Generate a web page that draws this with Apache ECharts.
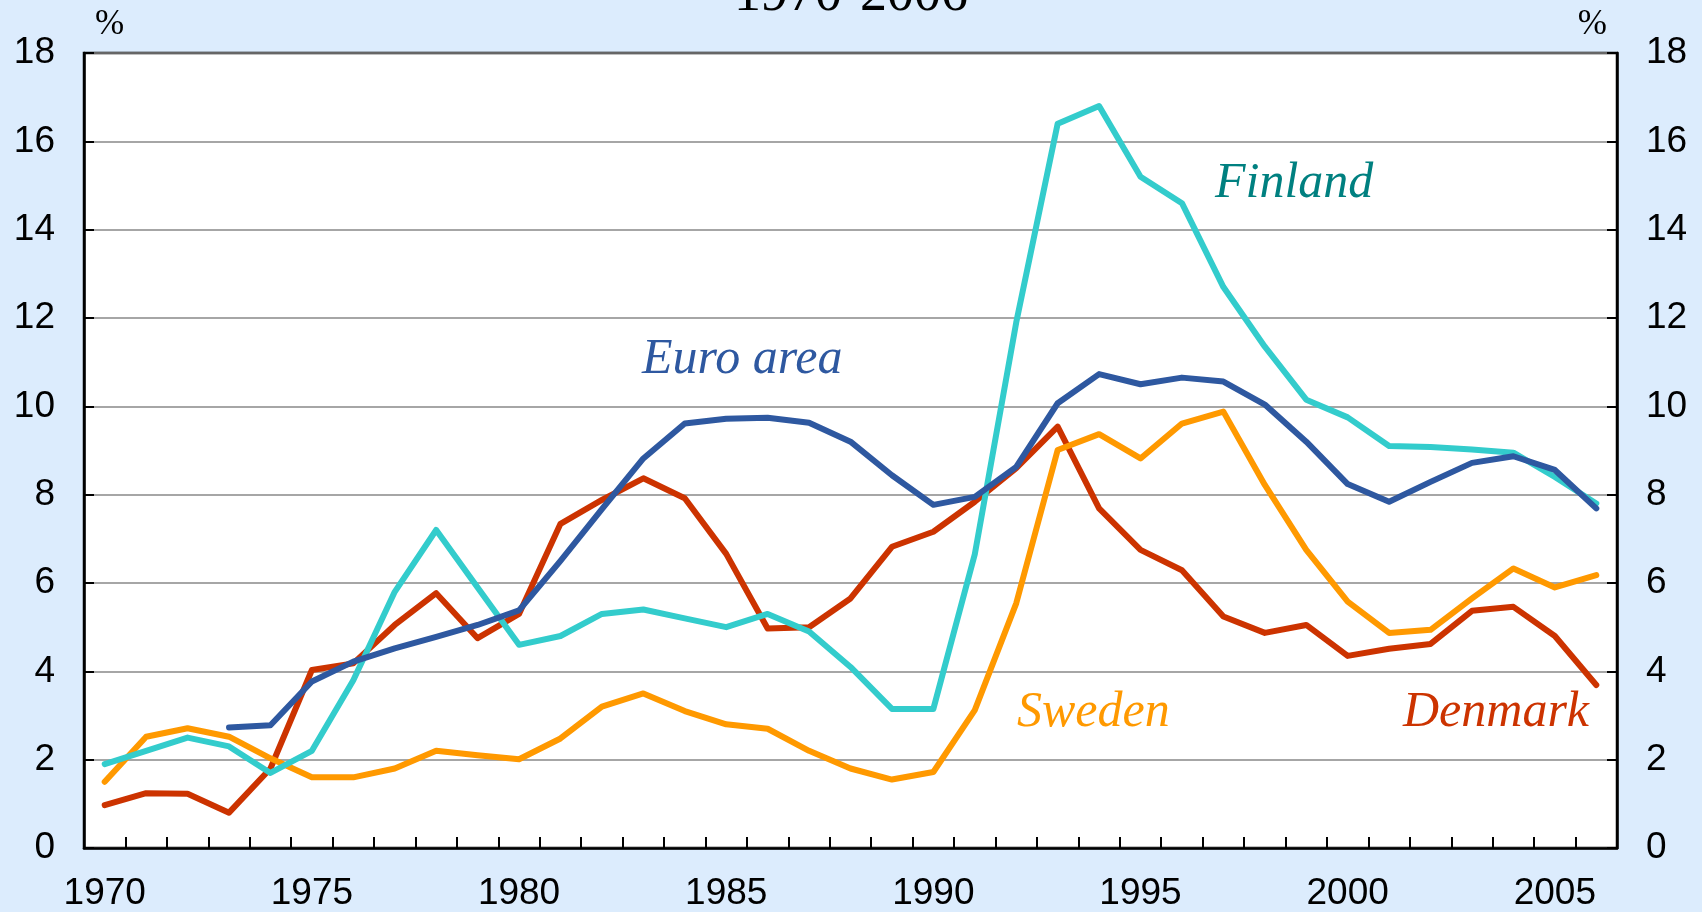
<!DOCTYPE html>
<html>
<head>
<meta charset="utf-8">
<script src="https://cdn.jsdelivr.net/npm/echarts@6/dist/echarts.min.js"></script>
<style>
html,body{margin:0;padding:0;background:#DCECFD;}
#c{width:1702px;height:912px;}
</style>
</head>
<body>
<div id="c"></div>
<script>
const years = ['1970','1971','1972','1973','1974','1975','1976','1977','1978','1979',
  '1980','1981','1982','1983','1984','1985','1986','1987','1988','1989',
  '1990','1991','1992','1993','1994','1995','1996','1997','1998','1999',
  '2000','2001','2002','2003','2004','2005','2006'];
const finland = [1.9,2.2,2.5,2.3,1.7,2.2,3.8,5.8,7.2,5.9,
  4.6,4.8,5.3,5.4,5.2,5.0,5.3,4.9,4.1,3.15,
  3.15,6.65,11.9,16.4,16.8,15.2,14.6,12.7,11.35,10.15,
  9.75,9.1,9.08,9.02,8.95,8.4,7.8];
const euroArea = [null,null,null,2.73,2.78,3.77,4.22,4.52,4.78,5.05,
  5.38,6.5,7.67,8.82,9.61,9.72,9.74,9.63,9.2,8.44,
  7.77,7.95,8.63,10.07,10.73,10.5,10.65,10.56,10.04,9.2,
  8.24,7.84,8.29,8.72,8.87,8.56,7.69];
const denmark = [0.97,1.24,1.23,0.8,1.8,4.03,4.18,5.05,5.77,4.75,
  5.3,7.34,7.88,8.37,7.92,6.66,4.97,5.0,5.65,6.82,
  7.16,7.84,8.6,9.54,7.69,6.75,6.29,5.24,4.87,5.05,
  4.35,4.51,4.62,5.37,5.46,4.8,3.69];
const sweden = [1.5,2.52,2.71,2.52,2.03,1.6,1.6,1.8,2.2,2.1,
  2.01,2.48,3.2,3.5,3.1,2.8,2.7,2.2,1.8,1.55,
  1.72,3.12,5.54,9.01,9.37,8.82,9.61,9.88,8.22,6.75,
  5.58,4.87,4.94,5.65,6.33,5.9,6.18];
const titleText = '1970-2006';
const unitLabel = '%';

const chart = echarts.init(document.getElementById('c'), null, {renderer:'canvas'});
const serif = '"Liberation Serif","Times New Roman",serif';
const sans = '"Liberation Sans",Arial,sans-serif';
const labelFont = 'italic 50px ' + serif;

function yAxisCfg(pos, showSplit){
  return {
    type:'value', position:pos, min:0, max:18, interval:2,
    axisLine:{show:true, lineStyle:{color:'#000', width:2.5}},
    axisTick:{show:true, inside:true, length:10, lineStyle:{color:'#000', width:2}},
    axisLabel:{color:'#000', fontSize:37, fontFamily:sans, margin:29},
    splitLine:{show:showSplit, lineStyle:{color:'#888', width:1.5}}
  };
}

function lineSeries(name, data, color, z){
  return {name, type:'line', data, symbol:'none', z,
    lineStyle:{color, width:6, join:'round', cap:'round'},
    itemStyle:{color}, connectNulls:false, animation:false};
}

chart.setOption({
  backgroundColor:'#DCECFD',
  animation:false,
  grid:{left:84, right:85, top:53, bottom:64, show:true,
    backgroundColor:'#ffffff', borderColor:'#000', borderWidth:2.5},
  xAxis:{type:'category', data:years, boundaryGap:true,
    axisLine:{show:true, lineStyle:{color:'#000', width:2.5}},
    axisTick:{show:true, inside:true, length:11, interval:0, lineStyle:{color:'#000', width:2}},
    axisLabel:{interval:4, color:'#000', fontSize:37, fontFamily:sans, margin:27},
    splitLine:{show:false}},
  yAxis:[yAxisCfg('left', true), yAxisCfg('right', false)],
  series:[
    lineSeries('Denmark', denmark, '#CC3300', 2),
    lineSeries('Sweden', sweden, '#FF9900', 3),
    lineSeries('Finland', finland, '#33CCCC', 4),
    lineSeries('Euro area', euroArea, '#2E58A0', 5)
  ],
  graphic:[
    {type:'text', x:851, y:-4, style:{text:titleText, font:'54px '+serif, fill:'#000', align:'center', verticalAlign:'middle'}},
    {type:'text', x:95, y:25, style:{text:unitLabel, font:'35px '+serif, fill:'#000', align:'left', verticalAlign:'middle'}},
    {type:'text', x:1607, y:25, style:{text:unitLabel, font:'35px '+serif, fill:'#000', align:'right', verticalAlign:'middle'}},
    {type:'text', x:642, y:360, z:10, style:{text:'Euro area', font:labelFont, fill:'#2E58A0', align:'left', verticalAlign:'middle'}},
    {type:'text', x:1215, y:184, z:10, style:{text:'Finland', font:labelFont, fill:'#008080', align:'left', verticalAlign:'middle'}},
    {type:'text', x:1017, y:713, z:10, style:{text:'Sweden', font:labelFont, fill:'#FF9900', align:'left', verticalAlign:'middle'}},
    {type:'text', x:1403, y:713, z:10, style:{text:'Denmark', font:labelFont, fill:'#CC3300', align:'left', verticalAlign:'middle'}}
  ]
});
</script>
</body>
</html>
